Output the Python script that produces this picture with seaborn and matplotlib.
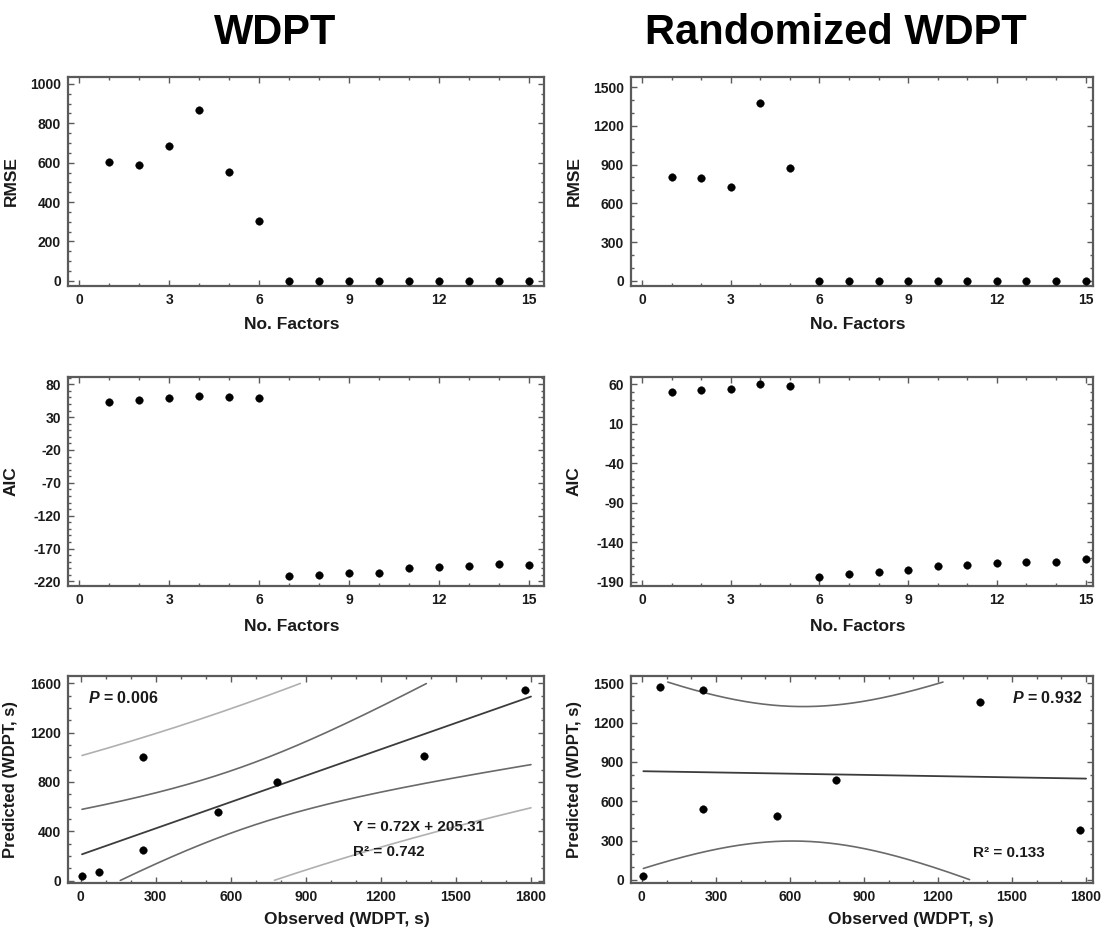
import numpy as np
import pandas as pd
import matplotlib
matplotlib.use("Agg")
import matplotlib.pyplot as plt
from matplotlib.ticker import MultipleLocator
import seaborn as sns

# ---------------- data ----------------
factors = list(range(1, 16))
rmse_wdpt = [604, 590, 687, 866, 552, 303, 0, 0, 0, 0, 0, 0, 0, 0, 0]
rmse_rand = [806, 799, 727, 1375, 873, 0, 0, 0, 0, 0, 0, 0, 0, 0, 0]
aic_wdpt = [53.7, 56.2, 58.7, 62.8, 61.3, 58.7, -211.9, -210.4, -207.8, -207.8,
            -200.2, -198.7, -196.2, -193.1, -194.7]
aic_rand = [50.3, 52.8, 53.6, 60.0, 57.9, -183.6, -180.3, -177.7, -174.8, -169.7,
            -168.4, -165.9, -165.0, -165.0, -160.8]
observed = [6, 75, 248, 248, 549, 785, 1372, 1775]
pred_wdpt = [35, 70, 1005, 246, 557, 800, 1014, 1549]
pred_rand = [30, 1472, 1449, 542, 488, 763, 1355, 381]

titles = ["WDPT", "Randomized WDPT"]
eq_text = "Y = 0.72X + 205.31"
r2_text = ["R² = 0.742", "R² = 0.133"]
p_text = ["0.006", "0.932"]
aic_ticks_wdpt = [80, 30, -20, -70, -120, -170, -220]
aic_ticks_rand = [60, 10, -40, -90, -140, -190]
T_CRIT = 2.447  # t(0.975, df=6)

# ---------------- style ----------------
sns.set_style("ticks")
plt.rcParams["font.family"] = ["Liberation Sans", "DejaVu Sans"]
plt.rcParams["font.weight"] = "bold"
plt.rcParams["axes.labelweight"] = "bold"
plt.rcParams["axes.unicode_minus"] = False
plt.rcParams["mathtext.fontset"] = "custom"
plt.rcParams["mathtext.it"] = "Liberation Sans:italic:bold"
plt.rcParams["mathtext.rm"] = "Liberation Sans:bold"

SPINE = "#5a5a5a"
TXT = "#1a1a1a"
LBL = dict(fontsize=12.5, fontweight="bold", color=TXT)

fig = plt.figure(figsize=(11.05, 9.30), dpi=100)

W, H = 1105, 930
cols = [(68, 544), (631, 1093)]
rows = [(77, 286), (377, 586), (676, 883)]


def make_ax(c, r):
    x0, x1 = cols[c]
    y0, y1 = rows[r]
    return fig.add_axes([x0 / W, 1 - y1 / H, (x1 - x0) / W, (y1 - y0) / H])


def style(ax, xmaj, xmin_n, ymaj, ymin_n):
    for s in ax.spines.values():
        s.set_color(SPINE)
        s.set_linewidth(1.6)
        s.set_visible(True)
    ax.xaxis.set_major_locator(MultipleLocator(xmaj))
    ax.xaxis.set_minor_locator(MultipleLocator(xmaj / xmin_n))
    ax.yaxis.set_major_locator(MultipleLocator(ymaj))
    ax.yaxis.set_minor_locator(MultipleLocator(ymaj / ymin_n))
    ax.tick_params(which="both", direction="in", top=True, right=True,
                   color=SPINE, width=1.0)
    ax.tick_params(which="major", length=4.5)
    ax.tick_params(which="minor", length=2.5)
    ax.tick_params(axis="y", which="major", labelsize=10, pad=5, labelcolor=TXT)
    ax.tick_params(axis="x", which="major", labelsize=10, pad=5, labelcolor=TXT)


def bold_ticks(ax):
    for lab in ax.get_xticklabels() + ax.get_yticklabels():
        lab.set_fontweight("bold")


def dots(ax, x, y):
    sns.scatterplot(x=x, y=y, ax=ax, color="black", s=30, edgecolor="black",
                    linewidth=0.3, zorder=5, legend=False)


# ---------- row 1: RMSE ----------
rmse_sets = [(rmse_wdpt, (-26, 1035), 200, 4, (-0.377, 15.51)),
             (rmse_rand, (-40, 1578), 300, 3, (-0.37, 15.25))]
for c, (vals, ylim, ymaj, ymn, xlim) in enumerate(rmse_sets):
    ax = make_ax(c, 0)
    dots(ax, factors, vals)
    ax.set_xlim(*xlim)
    ax.set_ylim(*ylim)
    style(ax, 3, 3, ymaj, ymn)
    bold_ticks(ax)
    ax.set_xlabel("No. Factors", **LBL)
    ax.set_ylabel("RMSE", **LBL)
    ax.xaxis.set_label_coords(0.47 if c == 0 else 0.49, -0.15)
    ax.yaxis.set_label_coords(-0.103 if c == 0 else -0.106, 0.5)

# ---------- row 2: AIC ----------
aic_sets = [(aic_wdpt, (-227, 91), aic_ticks_wdpt, (-0.377, 15.51)),
            (aic_rand, (-195.5, 69), aic_ticks_rand, (-0.37, 15.25))]
for c, (vals, ylim, yt, xlim) in enumerate(aic_sets):
    ax = make_ax(c, 1)
    dots(ax, factors, vals)
    ax.set_xlim(*xlim)
    ax.set_ylim(*ylim)
    style(ax, 3, 3, 50, 5)
    ax.set_yticks(yt)
    ax.yaxis.set_minor_locator(MultipleLocator(10))
    bold_ticks(ax)
    ax.set_xlabel("No. Factors", **LBL)
    ax.set_ylabel("AIC", **LBL)
    ax.xaxis.set_label_coords(0.47 if c == 0 else 0.49, -0.16)
    ax.yaxis.set_label_coords(-0.103 if c == 0 else -0.106, 0.5)

# ---------- row 3: observed vs predicted ----------
obs = np.array(observed, dtype=float)
pred_sets = [(pred_wdpt, (-20, 1659), 400, 4, (-50, 1852), 1600),
             (pred_rand, (-23, 1556), 300, 3, (-44, 1828), 1510)]
for c, (vals, ylim, ymaj, ymn, xlim, ycap) in enumerate(pred_sets):
    ax = make_ax(c, 2)
    y = np.array(vals, dtype=float)
    n = len(obs)
    slope, icpt = np.polyfit(obs, y, 1)
    resid = y - (slope * obs + icpt)
    s = np.sqrt(np.sum(resid ** 2) / (n - 2))
    sxx = np.sum((obs - obs.mean()) ** 2)
    gx = np.linspace(obs.min(), 1800, 400)
    gy = slope * gx + icpt
    se_m = s * np.sqrt(1 / n + (gx - obs.mean()) ** 2 / sxx)
    se_p = s * np.sqrt(1 + 1 / n + (gx - obs.mean()) ** 2 / sxx)

    def clip(v):
        v = v.copy()
        v[(v < 0) | (v > ycap)] = np.nan
        return v

    ax.plot(gx, gy, color="#3c3c3c", lw=1.3, zorder=3)
    ax.plot(gx, clip(gy + T_CRIT * se_m), color="#6a6a6a", lw=1.2, zorder=3)
    ax.plot(gx, clip(gy - T_CRIT * se_m), color="#6a6a6a", lw=1.2, zorder=3)
    ax.plot(gx, clip(gy + T_CRIT * se_p), color="#b0b0b0", lw=1.2, zorder=3)
    ax.plot(gx, clip(gy - T_CRIT * se_p), color="#b0b0b0", lw=1.2, zorder=3)
    dots(ax, observed, vals)
    ax.set_xlim(*xlim)
    ax.set_ylim(*ylim)
    style(ax, 300, 3, ymaj, ymn)
    bold_ticks(ax)
    ax.set_xlabel("Observed (WDPT, s)", **LBL)
    ax.set_ylabel("Predicted (WDPT, s)", fontsize=12, fontweight="bold", color=TXT)
    ax.xaxis.set_label_coords(0.586 if c == 0 else 0.605, -0.14)
    ax.yaxis.set_label_coords(-0.104 if c == 0 else -0.107, 0.5)

    if c == 0:
        ax.text(30, 1478, r"$\mathit{P}$ = " + p_text[0], fontsize=11.5,
                fontweight="bold", va="center", ha="left", color=TXT)
        ax.text(1090, 438, eq_text, fontsize=11, fontweight="bold",
                va="center", ha="left", color=TXT)
        ax.text(1090, 230, r2_text[0], fontsize=11, fontweight="bold",
                va="center", ha="left", color=TXT)
    else:
        ax.text(1785, 1386, r"$\mathit{P}$ = " + p_text[1], fontsize=11.5,
                fontweight="bold", va="center", ha="right", color=TXT)
        ax.text(1343, 208, r2_text[1], fontsize=11, fontweight="bold",
                va="center", ha="left", color=TXT)

# ---------- column titles ----------
fig.text(0.249, 0.965, titles[0], fontsize=30, fontweight="bold",
         ha="center", va="center", color="black")
fig.text(0.756, 0.965, titles[1], fontsize=30, fontweight="bold",
         ha="center", va="center", color="black")

fig.savefig("out.png", dpi=100, facecolor="white")
